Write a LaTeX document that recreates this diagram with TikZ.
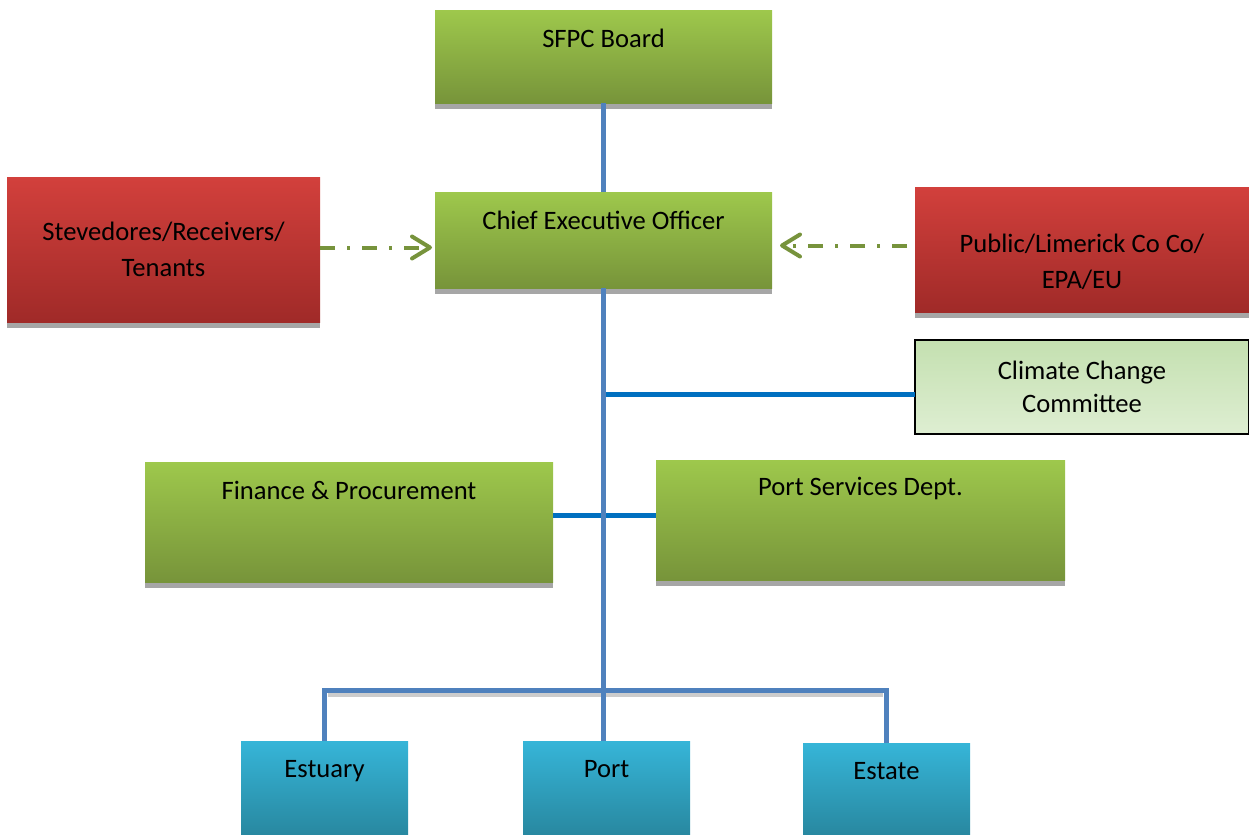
\documentclass[tikz,border=0pt]{standalone}
\usepackage{fontspec}
\setmainfont{Carlito}
\usetikzlibrary{arrows.meta,positioning,shadows}

\definecolor{greentop}{RGB}{158,200,76}
\definecolor{greenbot}{RGB}{119,148,58}
\definecolor{redtop}{RGB}{210,64,60}
\definecolor{redbot}{RGB}{160,42,40}
\definecolor{bluetop}{RGB}{54,181,216}
\definecolor{bluebot}{RGB}{40,136,160}
\definecolor{paletop}{RGB}{196,224,176}
\definecolor{palebot}{RGB}{222,238,210}
\definecolor{trunkblue}{RGB}{79,129,189}
\definecolor{linkblue}{RGB}{0,112,192}
\definecolor{arrowgreen}{RGB}{119,147,60}

\tikzset{
  box/.style={inner sep=0pt, outer sep=0pt, align=center},
  flat/.style={drop shadow={shadow xshift=0pt, shadow yshift=-2.8pt, fill=black!35, opacity=1}},
  toptext/.style={anchor=center, yshift=-14pt},
  lowtext/.style={anchor=center, yshift=-6pt, align=center, font=\fontsize{13.3}{18}\selectfont},
  greenbox/.style={box, flat, top color=greentop, bottom color=greenbot},
  redbox/.style={box, flat, top color=redtop, bottom color=redbot, font=\fontsize{13.3}{18}\selectfont},
  bluebox/.style={box, top color=bluetop, bottom color=bluebot, minimum width=83.5pt, minimum height=47pt},
  palebox/.style={box, draw=black, line width=1pt, top color=paletop, bottom color=palebot, font=\fontsize{13.3}{16.5}\selectfont},
  trunk/.style={trunkblue, line width=2.5pt},
  link/.style={linkblue, line width=2.5pt},
  dashdot/.style={arrowgreen, line width=2pt, dash pattern=on 7.5pt off 6pt on 1.5pt off 6pt,
    -{Straight Barb[length=9pt, width=11pt, line cap=round, line join=round]}}
}

\begin{document}
\begin{tikzpicture}[x=0.5pt, y=-0.5pt, font=\fontsize{13.3}{16}\selectfont]
  \useasboundingbox (0,0) rectangle (1249,835);

  % top of the chart
  \node[greenbox, minimum width=168.5pt, minimum height=46.5pt, label={[toptext]north:SFPC Board}] (board) at (603.5,56.5) {};
  \node[greenbox, minimum width=168.5pt, minimum height=48pt, below=44.5pt of board, label={[toptext]north:Chief Executive Officer}] (ceo) {};

  % outside parties
  \node[redbox, minimum width=156.5pt, minimum height=72.5pt] (steve) at (163.5,249.5) {Stevedores/Receivers/\\Tenants};
  \node[redbox, minimum width=167pt, minimum height=62.5pt, label={[lowtext]center:Public/Limerick Co Co/\\EPA/EU}] (public) at (1082,249.5) {};
  \node[palebox, minimum width=167pt, minimum height=47pt] (climate) at (1082,387) {Climate Change\\Committee};

  % departments
  \node[greenbox, minimum width=204pt, minimum height=60pt, label={[toptext]north:Finance \& Procurement}] (finance) at (349,522) {};
  \node[greenbox, minimum width=204.5pt, minimum height=60pt, label={[toptext]north:Port Services Dept.}] (ports) at (860.5,520) {};

  % units
  \node[bluebox, label={[toptext, yshift=-1pt]north:Estuary}] (estuary) at (324.5,788) {};
  \node[bluebox, label={[toptext]north:Port}] (port) at (606.5,788) {};
  \node[bluebox, minimum height=46pt, label={[toptext]north:Estate}] (estate) at (886.5,789) {};

  % connectors
  \draw[trunk] (board.south) -- (ceo.north);
  \draw[link] ([yshift=-3.5pt]climate.west -| ceo.south) -- ([yshift=-3.5pt]climate.west);
  \draw[link] ([yshift=3.5pt]finance.east) -- ([yshift=3.5pt]finance.east -| ports.west);
  \draw[black!20, line width=2pt] (estuary.north) ++(3,-46) -- ++(555,0);
  \draw[trunk] (estuary.north) -- ++(0,-51) -| (estate.north);
  \draw[trunk] (ceo.south) -- (ceo.south |- port.north);

  \draw[dashdot, shorten >=1.5pt] ([yshift=1pt]steve.east) -- ([yshift=1pt]steve.east -| ceo.west);
  \draw[dashdot, shorten <=4pt, shorten >=4pt] ([yshift=2pt]public.west) -- ([yshift=2pt]public.west -| ceo.east);
\end{tikzpicture}
\end{document}
